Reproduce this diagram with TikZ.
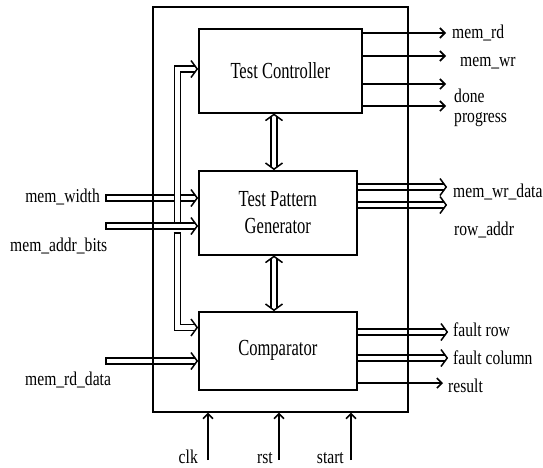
\documentclass[tikz,border=0pt]{standalone}
\usepackage{fontspec}
\setmainfont{Liberation Serif}[FakeStretch=0.8]
\newfontfamily\boxfont{Liberation Serif}[FakeStretch=0.72]
\usetikzlibrary{arrows.meta}
\newcommand{\hcap}[1]{\draw[line width=1.5pt] ([yshift=-3.8pt]#1) -- ([yshift=3.8pt]#1);}
\newcommand{\vcap}[1]{\draw[line width=1.5pt] ([xshift=-3.8pt]#1) -- ([xshift=3.8pt]#1);}
\begin{document}
\begin{tikzpicture}[x=1pt,y=-1pt,
  blk/.style={draw, line width=1.6pt, anchor=north west, inner sep=0pt,
    font=\boxfont\fontsize{23}{27}\selectfont, align=center},
  lbl/.style={inner sep=0pt, font=\fontsize{19.5}{20}\selectfont},
  sig/.style={line width=1.6pt, -{Straight Barb[length=5pt,width=10pt]}},
  bus/.style={line width=1.5pt, double, double distance=4.6pt, shorten >=2.6pt},
  bibus/.style={bus, shorten <=2.6pt},
  chevR/.pic={\draw[line width=1.5pt, line join=miter] (-7pt,-8.5pt) -- (-0.8pt,0pt) -- (-7pt,8.5pt);},
  chevU/.pic={\draw[line width=1.5pt, line join=miter] (-8.5pt,-7pt) -- (0pt,-0.8pt) -- (8.5pt,-7pt);},
  chevD/.pic={\draw[line width=1.5pt, line join=miter] (-8.5pt,7pt) -- (0pt,0.8pt) -- (8.5pt,7pt);}]
\useasboundingbox (0,0) rectangle (543,467);

% blocks
\node[blk, minimum width=163pt, minimum height=84pt] (tc) at (198,28) {Test Controller};
\node[blk, minimum width=158pt, minimum height=84pt] (tpg) at (198,170) {Test Pattern\\Generator};
\node[blk, minimum width=158pt, minimum height=78pt] (comp) at (198,311) {Comparator};

% TC outputs
\coordinate (o1) at (446,33);
\coordinate (o2) at (446,56);
\coordinate (o3) at (446,84);
\coordinate (o4) at (446,106);
\draw[sig] (tc.east |- o1) -- (o1);
\draw[sig] (tc.east |- o2) -- (o2);
\draw[sig] (tc.east |- o3) -- (o3);
\draw[sig] (tc.east |- o4) -- (o4);
\node[lbl, anchor=base west] (l1) at (452,38) {mem\_rd};
\node[lbl, anchor=base west] (l2) at (460,66) {mem\_wr};
\node[lbl, anchor=base west] (l3) at (454,102) {done};
\node[lbl, anchor=base west] (l4) at (454,122) {progress};

% TPG outputs
\coordinate (o5) at (447,187);
\coordinate (o6) at (447,205);
\draw[bus] (tpg.east |- o5) -- (o5);
\pic at (o5) {chevR};
\draw[bus] (tpg.east |- o6) -- (o6);
\pic at (o6) {chevR};
\node[lbl, anchor=base west] (l5) at (453,197) {mem\_wr\_data};
\node[lbl, anchor=base west] (l6) at (454,235) {row\_addr};

% Comparator outputs
\coordinate (o7) at (448,332);
\coordinate (o8) at (448,358);
\coordinate (o9) at (443,383);
\draw[bus] (comp.east |- o7) -- (o7);
\pic at (o7) {chevR};
\draw[bus] (comp.east |- o8) -- (o8);
\pic at (o8) {chevR};
\draw[sig] (comp.east |- o9) -- (o9);
\node[lbl, anchor=base west] (l7) at (453,336) {fault row};
\node[lbl, anchor=base west] (l8) at (453,364) {fault column};
\node[lbl, anchor=base west] (l9) at (448,392) {result};

% left inputs
\coordinate (i1) at (106,198);
\coordinate (i2) at (106,226);
\coordinate (i3) at (106,361);
\draw[bus] (i1) -- (tpg.west |- i1);
\pic at (tpg.west |- i1) {chevR};
\draw[bus] (i2) -- (tpg.west |- i2);
\pic at (tpg.west |- i2) {chevR};
\draw[bus] (i3) -- (comp.west |- i3);
\pic at (comp.west |- i3) {chevR};
\hcap{i1}\hcap{i2}\hcap{i3}
\node[lbl, anchor=base east] (li1) at (100,202) {mem\_width};
\node[lbl, anchor=base west] (li2) at (10,251) {mem\_addr\_bits};
\node[lbl, anchor=base west] (li3) at (25,385) {mem\_rd\_data};

% internal buses
\coordinate (j1) at (177.5,222);
\coordinate (c1) at (177.5,69);
\draw[bus] (j1) -- (c1) -- (tc.west |- c1);
\pic at (tc.west |- c1) {chevR};
\coordinate (j2) at (177.5,233);
\coordinate (c2) at (177.5,327.5);
\draw[bus] (j2) -- (c2) -- (comp.west |- c2);
\pic at (comp.west |- c2) {chevR};
\vcap{j2}

% bidirectional
\coordinate (bx) at (274,0);
\draw[bibus] (tc.south -| bx) -- (tpg.north -| bx);
\pic at (tc.south -| bx) {chevU};
\pic at (tpg.north -| bx) {chevD};
\draw[bibus] (tpg.south -| bx) -- (comp.north -| bx);
\pic at (tpg.south -| bx) {chevU};
\pic at (comp.north -| bx) {chevD};

% outer box
\node[draw, line width=1.6pt, anchor=north west, inner sep=0pt,
  minimum width=255pt, minimum height=405pt] (outer) at (152,6) {};

% bottom inputs
\coordinate (b1) at (208,460);
\coordinate (b2) at (279,460);
\coordinate (b3) at (351,460);
\draw[sig] (b1) -- (b1 |- outer.south);
\draw[sig] (b2) -- (b2 |- outer.south);
\draw[sig] (b3) -- (b3 |- outer.south);
\node[lbl, anchor=base east] (lb1) at (198,463) {clk};
\node[lbl, anchor=base east] (lb2) at (273,463) {rst};
\node[lbl, anchor=base east] (lb3) at (344,463) {start};
\end{tikzpicture}
\end{document}
